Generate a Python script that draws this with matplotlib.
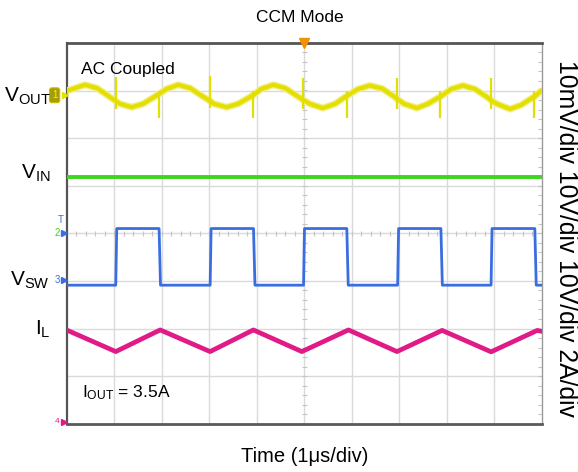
import numpy as np
import matplotlib
matplotlib.use("Agg")
import matplotlib.pyplot as plt

plt.rcParams['font.family'] = ['Liberation Sans', 'DejaVu Sans']
plt.rcParams['mathtext.fontset'] = 'custom'
plt.rcParams['mathtext.rm'] = 'Liberation Sans'
plt.rcParams['mathtext.it'] = 'Liberation Sans:italic'
plt.rcParams['mathtext.bf'] = 'Liberation Sans:bold'

# ---------------- data (time in us) ----------------
# channel scales (units/div) and ground-marker positions (div from bottom)
ch_scale = {'vout': 10.0, 'vin': 10.0, 'vsw': 10.0, 'il': 2.0}
ch_zero = {'vout': 6.9, 'vin': 4.0, 'vsw': 3.0, 'il': 0.0}

# VOUT (AC coupled, mV)
vout_t = [0.00, 0.39, 0.64, 0.88, 1.035, 1.125, 1.37, 1.61, 1.86, 1.945, 2.10, 2.35,
          2.60, 2.85, 3.018, 3.10, 3.37, 3.61, 3.86, 3.93, 4.09, 4.35, 4.60, 4.85,
          4.98, 5.12, 5.39, 5.65, 5.86, 5.893, 6.13, 6.38, 6.64, 6.87, 6.957, 7.10,
          7.37, 7.60, 7.81, 7.855, 8.09, 8.34, 8.59, 8.84, 8.921, 9.05, 9.33, 9.56,
          9.79, 9.838, 10.0]
vout_mv = [0.9, 2.2, 1.5, -0.15, -1.2, -1.8, -2.5, -1.8, -0.25, 0.27, 1.3, 2.2,
           1.5, -0.15, -1.2, -1.8, -2.5, -1.8, -0.36, 0.05, 1.3, 2.2, 1.5, -0.15,
           -1.0, -1.8, -2.7, -1.8, -0.36, -0.15, 1.3, 2.05, 1.4, -0.15, -0.8, -1.8,
           -2.7, -1.8, -0.57, -0.36, 1.3, 2.05, 1.3, -0.36, -1.0, -1.8, -2.9, -2.05,
           -0.57, -0.36, 1.1]
# switching spikes on VOUT
spike_t = [1.035, 1.945, 3.018, 3.93, 4.98, 5.893, 6.957, 7.855, 8.921, 9.838]
spike_hi = [3.8, 0.9, 4.0, 0.9, 3.6, 0.9, 3.6, 0.9, 3.6, 0.9]
spike_lo = [-2.8, -4.8, -2.6, -4.8, -2.8, -4.8, -2.8, -4.8, -2.8, -4.8]

# VIN (V)
vin_t = [0.0, 10.0]
vin_v = [11.8, 11.8]

# VSW (V): edge times and levels
vsw_rise = [1.036, 3.021, 4.985, 6.964, 8.929]
vsw_fall = [1.947, 3.933, 5.895, 7.874, 9.849]
vsw_low, vsw_high = -0.9, 11.0

# IL (A): triangle vertices
il_t = [0.0, 1.036, 1.97, 3.02, 3.93, 4.95, 5.93, 6.95, 7.90, 8.93, 9.90, 10.0]
il_a = [3.94, 3.03, 3.94, 3.03, 3.94, 3.03, 3.94, 3.03, 3.92, 3.02, 3.92, 3.88]

# ---------------- figure ----------------
W, H = 578, 472
fig = plt.figure(figsize=(W / 100, H / 100), dpi=100)
fig.patch.set_facecolor('white')
ax = fig.add_axes([66.5 / W, 1 - 423.7 / H, 475.5 / W, 380.8 / H])
ax.set_xlim(0, 10)
ax.set_ylim(0, 8)

def to_div(vals, ch):
    return np.asarray(vals, float) / ch_scale[ch] + ch_zero[ch]

# graticule
for x in range(1, 10):
    ax.axvline(x, color='#dadada', lw=1, zorder=1)
for y in range(1, 8):
    ax.axhline(y, color='#dadada', lw=1, zorder=1)
minor_x = np.arange(0.2, 10, 0.2)
minor_y = np.arange(0.2, 8, 0.2)
ax.vlines(minor_x, 4 - 0.05, 4 + 0.05, color='#c4c4c4', lw=0.8, zorder=1)
ax.hlines(minor_y, 5 - 0.05, 5 + 0.05, color='#c4c4c4', lw=0.8, zorder=1)
ax.hlines(minor_y, 10 - 0.09, 10, color='#c4c4c4', lw=0.8, zorder=1)

ax.set_xticks([])
ax.set_yticks([])
for side, c, lw in [('left', '#555555', 1.6), ('bottom', '#5a5a5a', 2.0),
                    ('top', '#555555', 2.0), ('right', '#9a9a9a', 1.0)]:
    ax.spines[side].set_color(c)
    ax.spines[side].set_linewidth(lw)

# VOUT
yc = '#e3df00'
vy = to_div(vout_mv, 'vout')
ax.plot(vout_t, vy, color='#f1ee8a', lw=5.0, solid_capstyle='butt', zorder=3)
ax.plot(vout_t, vy, color=yc, lw=3.0, zorder=4)
ax.vlines(spike_t, to_div(spike_lo, 'vout'), to_div(spike_hi, 'vout'), color=yc, lw=1.6, zorder=4)

# VIN
ax.plot(vin_t, to_div(vin_v, 'vin'), color='#3cd61c', lw=2.8, zorder=4)

# VSW
st = [0.0]
sv = [vsw_low]
for r, f in zip(vsw_rise, vsw_fall):
    st += [r, r + 0.02, f, f + 0.03]
    sv += [vsw_low, vsw_high, vsw_high, vsw_low]
st.append(10.0)
sv.append(vsw_low)
ax.plot(st, to_div(sv, 'vsw'), color='#3a6ee0', lw=2.0, zorder=4)

# IL
ax.plot(il_t, to_div(il_a, 'il'), color='#e01a86', lw=3.4, zorder=4)

# trigger marker
ax.plot([5], [8], marker='v', color='#f39200', ms=7, clip_on=False, zorder=6)

# channel markers at left edge
ax.text(-0.25, 6.9, '1', color='#f2ee30', fontsize=7, ha='center', va='center',
        bbox=dict(boxstyle='round,pad=0.25', fc='#a89c00', ec='#c8bd00', lw=0.8), clip_on=False)
ax.plot([-0.04], [6.9], marker='>', color=yc, ms=5, clip_on=False, zorder=6)
ax.text(-0.12, 4.27, 'T', color='#3a6ee0', fontsize=7, ha='center', va='center', clip_on=False)
ax.text(-0.2, 4.0, '2', color='#44cc22', fontsize=7, ha='center', va='center', clip_on=False)
ax.plot([-0.06], [4.0], marker='>', color='#3a6ee0', ms=4.5, clip_on=False, zorder=6)
ax.text(-0.2, 3.02, '3', color='#3a6ee0', fontsize=7, ha='center', va='center', clip_on=False)
ax.plot([-0.06], [3.02], marker='>', color='#3a6ee0', ms=4.5, clip_on=False, zorder=6)
ax.text(-0.2, 0.04, '4', color='#e01a86', fontsize=6, ha='center', va='center', clip_on=False)
ax.plot([-0.06], [0.04], marker='>', color='#e01a86', ms=4, clip_on=False, zorder=6)

# texts
def fx(px):
    return px / W

def fy(py):
    return 1 - py / H

fig.text(fx(300), fy(18), 'CCM Mode', fontsize=12.5, ha='center', va='center')
fig.text(fx(305), fy(456), 'Time (1\u03bcs/div)', fontsize=14.5, ha='center', va='center')
fig.text(fx(566), fy(238), '10mV/div 10V/div 10V/div 2A/div', fontsize=17.8,
         rotation=270, ha='center', va='center')
fig.text(fx(81), fy(74.3), 'AC Coupled', fontsize=12.5, ha='left', va='baseline')
fig.text(fx(82.5), fy(397.7), r'I$_{\mathrm{OUT}}$ = 3.5A', fontsize=12.5, ha='left', va='baseline')

lab_fs = 15
fig.text(fx(51), fy(102), r'V$_{\mathrm{OUT}}$', fontsize=lab_fs, ha='right', va='baseline')
fig.text(fx(51), fy(179), r'V$_{\mathrm{IN}}$', fontsize=lab_fs, ha='right', va='baseline')
fig.text(fx(50), fy(286), r'V$_{\mathrm{SW}}$', fontsize=lab_fs, ha='right', va='baseline')
fig.text(fx(51), fy(335), r'I$_{\mathrm{L}}$', fontsize=lab_fs, ha='right', va='baseline')

fig.savefig('out.png', dpi=100, facecolor='white')
